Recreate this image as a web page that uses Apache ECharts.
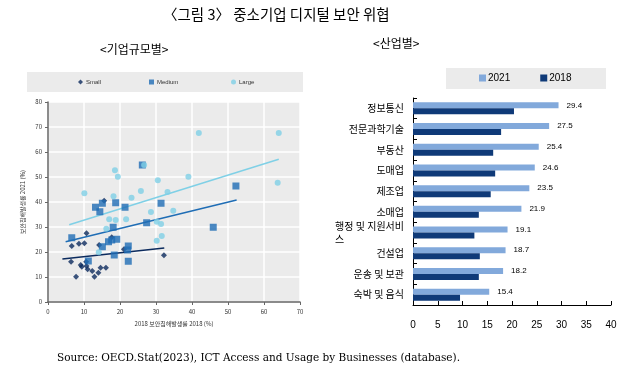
<!DOCTYPE html>
<html>
<head>
<meta charset="utf-8">
<script src="https://cdn.jsdelivr.net/npm/echarts@6/dist/echarts.min.js"></script>
<style>
	html, body { margin: 0; padding: 0; background: #fff; }
	#chart { width: 623px; height: 376px; }
</style>
</head>
<body>
<div id="chart"></div>
<script>
// 기업규모별: [2018 보안침해발생률, 2021 보안침해발생률]
var smallData = [[15.6, 40.5], [10.7, 27.5], [6.6, 22.4], [8.6, 23.3], [10.1, 23.5], [14.2, 22.8], [17.7, 25.9],
	[21.1, 21.1], [32.2, 18.7], [6.4, 16.1], [9.1, 14.8], [9.4, 14.1], [10.6, 16.1], [10.7, 14.4], [11.0, 13.1],
	[12.3, 12.4], [14.0, 11.7], [12.9, 10.1], [14.6, 13.7], [16.1, 13.7], [7.8, 10.1]]
var mediumData = [[6.6, 25.7], [13.2, 37.9], [14.4, 36.1], [15.1, 39.5], [18.8, 39.7], [21.4, 37.9], [31.4, 39.5],
	[27.4, 31.7], [18.1, 29.9], [15.1, 22.1], [16.8, 24.1], [17.7, 24.8], [19.1, 25.1], [18.4, 18.8], [22.3, 22.4],
	[22.1, 20.8], [22.3, 16.3], [11.2, 16.4], [45.9, 29.9], [52.2, 46.4], [26.2, 54.8]]
var largeData = [[10.1, 43.5], [18.6, 52.7], [19.4, 50.1], [26.7, 54.8], [18.2, 42.3], [23.2, 41.7], [25.8, 44.4],
	[30.5, 48.7], [33.2, 44.0], [41.9, 67.6], [64.1, 67.6], [39.0, 50.1], [63.8, 47.7], [17.0, 33.1], [18.8, 32.8],
	[21.7, 33.1], [16.2, 29.3], [14.1, 19.9], [28.6, 36.0], [30.2, 32.1], [31.4, 31.2], [30.2, 24.5], [31.6, 26.4],
	[34.8, 36.5]]
// 추세선 양 끝점
var smallTrend = [[4.0, 17.2], [32.3, 21.6]]
var mediumTrend = [[4.9, 24.1], [52.4, 40.8]]
var largeTrend = [[5.9, 30.9], [64.1, 57.1]]

// 산업별
var industries = ['정보통신', '전문과학기술', '부동산', '도매업', '제조업', '소매업', '행정 및 지원서비스', '건설업', '운송 및 보관', '숙박 및 음식']
var rate2021 = [29.4, 27.5, 25.4, 24.6, 23.5, 21.9, 19.1, 18.7, 18.2, 15.4]
var rate2018 = [20.4, 17.8, 16.2, 16.6, 15.7, 13.3, 12.4, 13.5, 13.3, 9.5]

var cjk = '"Noto Sans CJK KR", "Noto Sans", sans-serif'
var colSmall = '#0c2b5e'
var colMedium = '#1f6db5'
var colLarge = '#7fd0e6'
var col2021 = '#82a9db'
var col2018 = '#0f3a78'

var chart = echarts.init(document.getElementById('chart'))

function sizeLegend(name, icon, left) {
	return {
		data: [{ name: name, icon: icon }],
		left: left,
		top: 79,
		itemWidth: 5,
		itemHeight: 5,
		padding: 0,
		textStyle: { fontSize: 6, color: '#333', fontFamily: 'Liberation Sans, sans-serif', padding: [0, 0, 0, -2] }
	}
}

chart.setOption({
	animation: false,
	textStyle: { fontFamily: cjk },
	graphic: [
		{ type: 'text', left: 163, top: 7, style: { text: '〈그림 3〉 중소기업 디지털 보안 위협', fontSize: 14.5, fill: '#000', fontFamily: cjk } },
		{ type: 'text', left: 100, top: 43, style: { text: '<기업규모별>', fontSize: 12, fill: '#000', fontFamily: cjk } },
		{ type: 'text', left: 373, top: 37, style: { text: '<산업별>', fontSize: 12, fill: '#000', fontFamily: cjk } },
		{ type: 'rect', shape: { x: 27, y: 72, width: 276, height: 20 }, style: { fill: '#ebebeb' }, z: -1 },
		{ type: 'rect', shape: { x: 446, y: 68, width: 160, height: 21 }, style: { fill: '#ebebeb' }, z: -1 },
		{ type: 'rect', shape: { x: 48, y: 102, width: 252, height: 200 }, style: { fill: '#ebebeb' }, z: -1 },
		{ type: 'text', left: 57, top: 353, style: { text: 'Source: OECD.Stat(2023), ICT Access and Usage by Businesses (database).', fontSize: 10.5, fill: '#000', fontFamily: 'DejaVu Serif, serif' } }
	],
	legend: [
		sizeLegend('Small', 'diamond', 78),
		sizeLegend('Medium', 'rect', 149),
		sizeLegend('Large', 'circle', 231),
		{
			data: [{ name: '2021', icon: 'rect' }, { name: '2018', icon: 'rect' }],
			left: 479,
			top: 73,
			itemWidth: 7,
			itemHeight: 7,
			itemGap: 30,
			padding: 0,
			textStyle: { fontSize: 10, color: '#000', fontFamily: 'Liberation Sans, sans-serif', padding: [0, 0, 0, -3] }
		}
	],
	grid: [
		{ left: 48, right: 323, top: 102, bottom: 74 },
		{ left: 413, right: 12, top: 98, bottom: 71 }
	],
	xAxis: [
		{
			gridIndex: 0,
			type: 'value',
			min: 0,
			max: 70,
			interval: 10,
			name: '2018 보안침해발생률 2018 (%)',
			nameLocation: 'middle',
			nameGap: 19,
			nameTextStyle: { fontSize: 6, color: '#333', fontFamily: cjk },
			axisLine: { show: true, lineStyle: { color: '#666', width: 1.5 } },
			axisTick: { show: true, length: 3, lineStyle: { color: '#666' } },
			axisLabel: { fontSize: 6, color: '#333', margin: 7 },
			splitLine: { show: true, lineStyle: { color: '#fff', width: 1.5 } }
		},
		{
			gridIndex: 1,
			type: 'value',
			min: 0,
			max: 40,
			interval: 5,
			axisLine: { show: true, lineStyle: { color: '#000' } },
			axisTick: { show: true, inside: true, length: 4, lineStyle: { color: '#000' } },
			axisLabel: { fontSize: 10, color: '#000', margin: 15, fontFamily: 'Liberation Sans, sans-serif' },
			splitLine: { show: false }
		}
	],
	yAxis: [
		{
			gridIndex: 0,
			type: 'value',
			min: 0,
			max: 80,
			interval: 10,
			name: '보안침해발생률 2021 (%)',
			nameLocation: 'middle',
			nameGap: 22,
			nameTextStyle: { fontSize: 6, color: '#333', fontFamily: cjk },
			axisLine: { show: true, lineStyle: { color: '#666', width: 1.5 } },
			axisTick: { show: true, length: 3, lineStyle: { color: '#666' } },
			axisLabel: { fontSize: 6, color: '#333', margin: 6 },
			splitLine: { show: true, lineStyle: { color: '#fff', width: 1.5 } }
		},
		{
			gridIndex: 1,
			type: 'category',
			inverse: true,
			data: industries,
			axisLine: { show: true, lineStyle: { color: '#000' } },
			axisTick: { show: true, inside: true, length: 4, lineStyle: { color: '#000' } },
			axisLabel: {
				fontSize: 10,
				color: '#000',
				margin: 9,
				formatter: function (v) {
					if (v === '행정 및 지원서비스') {
						return '{a|행정 및 지원서비}\n{b|스}'
					}
					return v
				},
				rich: {
					a: { fontSize: 10, color: '#000', align: 'right', lineHeight: 13 },
					b: { fontSize: 10, color: '#000', align: 'left', lineHeight: 13 }
				}
			}
		}
	],
	series: [
		{
			name: 'Small', type: 'scatter', xAxisIndex: 0, yAxisIndex: 0,
			symbol: 'diamond', symbolSize: 6, itemStyle: { color: colSmall }, data: smallData
		},
		{
			name: 'Medium', type: 'scatter', xAxisIndex: 0, yAxisIndex: 0,
			symbol: 'rect', symbolSize: 7, itemStyle: { color: colMedium }, data: mediumData
		},
		{
			name: 'Large', type: 'scatter', xAxisIndex: 0, yAxisIndex: 0,
			symbol: 'circle', symbolSize: 6, itemStyle: { color: colLarge }, data: largeData
		},
		{
			name: 'smallTrend', type: 'line', xAxisIndex: 0, yAxisIndex: 0, showSymbol: false,
			lineStyle: { color: colSmall, width: 1.5 }, data: smallTrend, z: 1
		},
		{
			name: 'mediumTrend', type: 'line', xAxisIndex: 0, yAxisIndex: 0, showSymbol: false,
			lineStyle: { color: colMedium, width: 1.5 }, data: mediumTrend, z: 1
		},
		{
			name: 'largeTrend', type: 'line', xAxisIndex: 0, yAxisIndex: 0, showSymbol: false,
			lineStyle: { color: colLarge, width: 1.5 }, data: largeTrend, z: 1
		},
		{
			name: '2021', type: 'bar', xAxisIndex: 1, yAxisIndex: 1,
			barWidth: 6, barGap: '0%',
			itemStyle: { color: col2021 },
			label: { show: true, position: 'right', distance: 8, fontSize: 8, color: '#000', fontFamily: 'Liberation Sans, sans-serif' },
			data: rate2021
		},
		{
			name: '2018', type: 'bar', xAxisIndex: 1, yAxisIndex: 1,
			barWidth: 6, barGap: '0%',
			itemStyle: { color: col2018 },
			data: rate2018
		}
	]
})
</script>
</body>
</html>
